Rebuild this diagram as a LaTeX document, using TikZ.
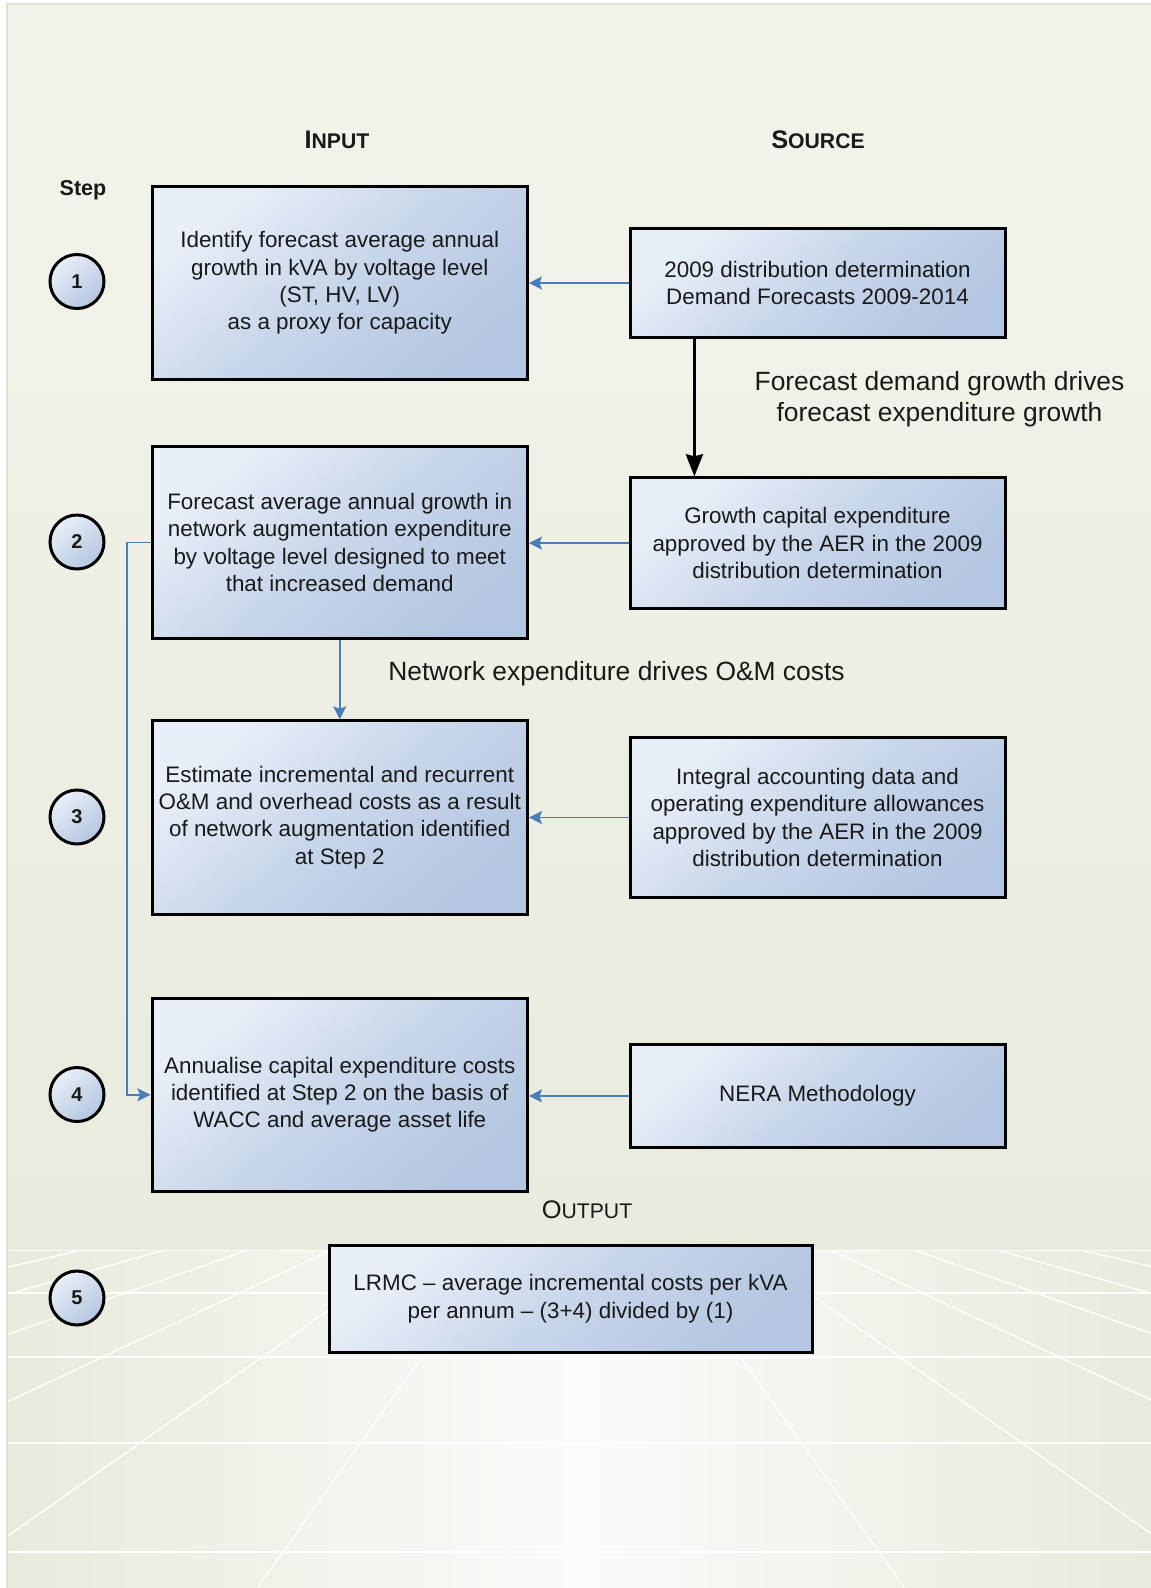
\documentclass[tikz,border=0pt]{standalone}
\usepackage{fontspec}
\setmainfont{Liberation Sans}
\usetikzlibrary{arrows.meta}
\definecolor{panelTop}{RGB}{243,243,236}
\definecolor{panelBot}{RGB}{232,235,221}
\definecolor{panelBorder}{RGB}{218,226,210}
\definecolor{floorSide}{RGB}{231,234,220}
\definecolor{floorMid}{RGB}{251,251,250}
\definecolor{boxLight}{RGB}{233,239,248}
\definecolor{boxMid}{RGB}{200,214,234}
\definecolor{boxDark}{RGB}{180,198,225}
\definecolor{arrowBlue}{RGB}{74,126,187}
\definecolor{txt}{RGB}{25,25,25}
\tikzset{
  stepbox/.style={draw=black, line width=3pt, inner sep=0pt, align=center,
    top color=boxLight, bottom color=boxDark, middle color=boxMid, shading angle=40,
    text=txt, font=\fontsize{22.4}{27.3}\selectfont},
  stepcircle/.style={circle, draw=black, line width=3pt, minimum size=54pt, inner sep=0pt,
    top color=boxLight, bottom color=boxDark, shading angle=40,
    font=\fontsize{20}{24}\selectfont\bfseries, text=txt},
  bluearrow/.style={draw=arrowBlue, line width=1.6pt, -{Stealth[length=13pt,width=13pt,inset=2.5pt]}},
  blackarrow/.style={draw=black, line width=3.2pt, -{Stealth[length=22pt,width=17pt,inset=2pt]}},
  biglabel/.style={align=center, text=txt, font=\fontsize{26.4}{31.4}\selectfont, inner sep=0pt},
  headlabel/.style={text=txt, inner sep=0pt},
}
\newcommand{\bigsc}[2]{{\fontsize{25.4}{30}\selectfont #1}{\fontsize{21.2}{30}\selectfont #2}}
\begin{document}
\begin{tikzpicture}[x=1pt,y=-1pt]
\useasboundingbox (0,0) rectangle (1151,1588);
\fill[white] (0,0) rectangle (1151,1588);
% upper panel
\fill[top color=panelTop, bottom color=panelBot] (7,4) rectangle (1151,1250);
% floor
\begin{scope}
  \clip (7,1250) rectangle (1151,1588);
  \fill[left color=floorSide, right color=floorSide, middle color=floorMid] (7,1250) rectangle (1151,1588);
  \foreach \k in {-14,...,-1,1,2,...,14}
    \draw[white, line width=1.3pt] (581,1133) -- ({581+\k*323.7},1588);
  \foreach \yy in {1293,1357,1443,1552}
    \draw[white, line width=1.8pt] (7,\yy) -- (1151,\yy);
  \draw[white, line width=2.4pt] (7,1250) -- (1151,1250);
\end{scope}
\draw[panelBorder, line width=1.5pt] (1151,4) -- (7,4) -- (7,1588);

% headings
\node[headlabel, font=\bfseries] (hin) at (337,140) {\bigsc{I}{NPUT}};
\node[headlabel, font=\bfseries] (hsrc) at (818,140) {\bigsc{S}{OURCE}};
\node[headlabel, font=\fontsize{21.5}{26}\selectfont\bfseries] (hstep) at (83,190) {Step};
\node[headlabel] (hout) at (587,1210) {\bigsc{O}{UTPUT}};

% input boxes
\node[stepbox, minimum width=375.5pt, minimum height=193.3pt] (b1) at (339.75,283)
  {Identify forecast average annual\\growth in kVA by voltage level\\(ST, HV, LV)\\as a proxy for capacity};
\node[stepbox, minimum width=375.5pt, minimum height=192.4pt] (b2) at (339.75,542.6)
  {Forecast average annual growth in\\network augmentation expenditure\\by voltage level designed to meet\\that increased demand};
\node[stepbox, minimum width=375.5pt, minimum height=193.3pt] (b3) at (339.75,817.45)
  {Estimate incremental and recurrent\\O\&M and overhead costs as a result\\of network augmentation identified\\at Step 2};
\node[stepbox, minimum width=375.5pt, minimum height=193.4pt] (b4) at (339.75,1094.8)
  {Annualise capital expenditure costs\\identified at Step 2 on the basis of\\WACC and average asset life};

% source boxes
\node[stepbox, minimum width=375pt, minimum height=108.3pt] (s1) at (817.5,283)
  {2009 distribution determination\\Demand Forecasts 2009-2014};
\node[stepbox, minimum width=375pt, minimum height=130.6pt] (s2) at (817.5,543.1)
  {Growth capital expenditure\\approved by the AER in the 2009\\distribution determination};
\node[stepbox, minimum width=375pt, minimum height=160.9pt] (s3) at (817.5,817.5)
  {Integral accounting data and\\operating expenditure allowances\\approved by the AER in the 2009\\distribution determination};
\node[stepbox, minimum width=375pt, minimum height=102.3pt] (s4) at (817.5,1095.9)
  {NERA Methodology};

% output box
\node[stepbox, minimum width=483pt, minimum height=107.3pt] (b5) at (570.5,1298.75)
  {LRMC -- average incremental costs per kVA\\per annum -- (3+4) divided by (1)};

% step circles
\node[stepcircle] (c1) at (77,281.5) {1};
\node[stepcircle] (c2) at (77,542) {2};
\node[stepcircle] (c3) at (77,817) {3};
\node[stepcircle] (c4) at (77,1094.5) {4};
\node[stepcircle] (c5) at (77,1298) {5};

% labels
\node[biglabel] (l1) at (939.5,399) {Forecast demand growth drives\\forecast expenditure growth};
\node[biglabel] (l2) at (616.5,674) {Network expenditure drives O\&M costs};

% connectors
\draw[bluearrow] (s1.west) -- (s1.west -| b1.east);
\draw[bluearrow] (s2.west) -- (s2.west -| b2.east);
\draw[bluearrow] (s3.west) -- (s3.west -| b3.east);
\draw[bluearrow] (s4.west) -- (s4.west -| b4.east);
\coordinate (ax) at (694.4,0);
\draw[blackarrow] (s1.south -| ax) -- (s2.north -| ax);
\draw[bluearrow] (b2.south) -- (b3.north);
\coordinate (ex) at (127,0);
\draw[bluearrow] (b2.west) -- (b2.west -| ex) |- (b4.west);
\end{tikzpicture}
\end{document}
